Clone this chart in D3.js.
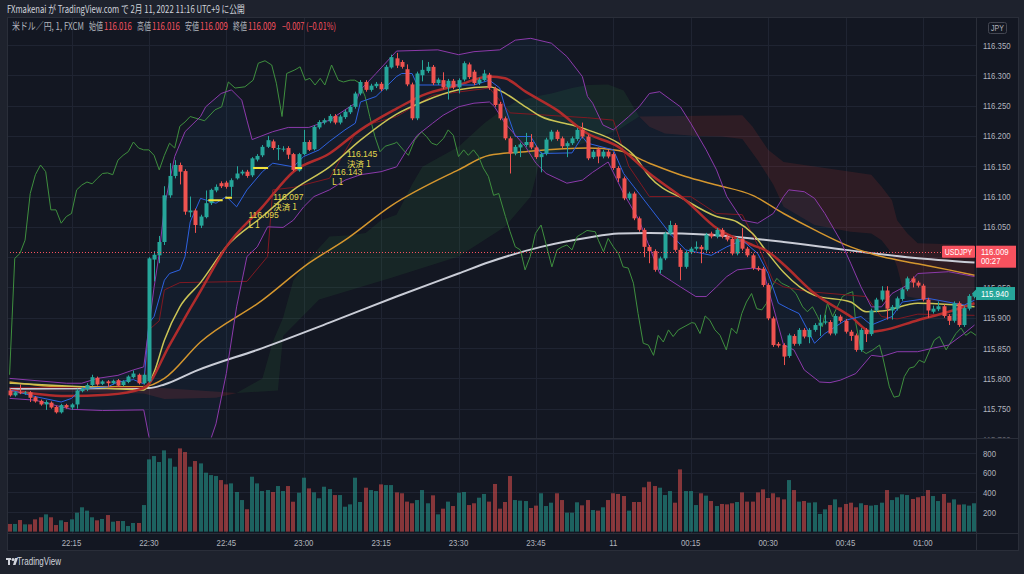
<!DOCTYPE html>
<html>
<head>
<meta charset="utf-8">
<script src="https://cdn.jsdelivr.net/npm/d3@7"></script>
<style>
html, body { margin: 0; padding: 0; background: #1e222d; }
svg { display: block; }
</style>
</head>
<body>
<svg id="chart" width="1024" height="574"></svg>
<script>
// ---- data (1 minute bars, 22:03 .. 01:10) ----
var timeLabels = ["22:15", "22:30", "22:45", "23:00", "23:15", "23:30", "23:45", "11", "00:15", "00:30", "00:45", "01:00"];
var timeLabelIdx = [12, 27, 42, 57, 72, 87, 102, 117, 132, 147, 162, 177];
var priceTicks = [116.35, 116.30, 116.25, 116.20, 116.15, 116.10, 116.05, 116.00, 115.95, 115.90, 115.85, 115.80, 115.75, 115.70];
var volumeTicks = [800, 600, 400, 200];

var opens = [115.780,115.772,115.777,115.776,115.777,115.769,115.763,115.757,115.760,115.753,115.744,115.756,115.752,115.757,115.779,115.782,115.789,115.801,115.791,115.795,
115.792,115.797,115.789,115.794,115.802,115.806,115.792,115.795,115.996,116.003,116.025,116.102,116.134,116.152,116.142,116.074,116.077,116.052,116.066,116.089,
116.110,116.122,116.123,116.116,116.130,116.138,116.141,116.135,116.161,116.168,116.182,116.191,116.178,116.178,116.180,116.170,116.143,116.170,116.190,116.178,
116.214,116.222,116.224,116.233,116.222,116.231,116.239,116.248,116.270,116.289,116.276,116.282,116.286,116.277,116.313,116.328,116.322,116.310,116.285,116.229,
116.300,116.307,116.314,116.287,116.292,116.280,116.291,116.280,116.293,116.318,116.306,116.287,116.292,116.301,116.278,116.253,116.229,116.196,116.171,116.181,
116.185,116.190,116.181,116.165,116.171,116.194,116.207,116.196,116.183,116.188,116.195,116.210,116.199,116.165,116.178,116.166,116.174,116.170,116.147,116.130,
116.097,116.105,116.064,116.045,116.017,116.010,115.979,115.998,116.039,116.053,116.012,115.984,116.008,116.014,116.017,116.012,116.039,116.034,116.045,116.034,
116.030,116.006,116.030,116.014,116.003,115.982,115.981,115.954,115.899,115.857,115.855,115.837,115.870,115.857,115.880,115.868,115.880,115.887,115.892,115.893,
115.874,115.902,115.895,115.877,115.871,115.847,115.880,115.873,115.912,115.930,115.945,115.912,115.915,115.931,115.947,115.965,115.958,115.953,115.930,115.910,
115.914,115.919,115.903,115.895,115.924,115.888,115.915,115.935];
var highs = [115.783,115.779,115.790,115.779,115.779,115.771,115.765,115.764,115.762,115.755,115.758,115.758,115.759,115.783,115.786,115.792,115.806,115.803,115.797,115.797,
115.798,115.799,115.797,115.805,115.813,115.808,115.808,116.000,116.010,116.035,116.117,116.155,116.160,116.156,116.145,116.100,116.080,116.070,116.110,116.113,
116.120,116.125,116.126,116.130,116.150,116.144,116.144,116.165,116.170,116.185,116.200,116.194,116.185,116.183,116.183,116.172,116.172,116.210,116.193,116.218,
116.226,116.229,116.236,116.236,116.235,116.243,116.251,116.273,116.292,116.292,116.286,116.289,116.289,116.317,116.334,116.337,116.325,116.318,116.288,116.306,
116.325,116.322,116.317,116.296,116.305,116.294,116.294,116.295,116.323,116.321,116.309,116.296,116.309,116.304,116.281,116.256,116.232,116.199,116.185,116.189,
116.205,116.203,116.184,116.173,116.197,116.210,116.210,116.199,116.191,116.199,116.213,116.222,116.202,116.177,116.181,116.177,116.177,116.173,116.150,116.133,
116.108,116.108,116.067,116.048,116.020,116.013,116.001,116.042,116.060,116.056,116.015,116.011,116.017,116.026,116.020,116.040,116.042,116.048,116.048,116.037,
116.033,116.033,116.048,116.017,116.006,115.985,115.984,115.957,115.902,115.860,115.858,115.874,115.873,115.883,115.883,115.883,115.891,115.905,115.905,115.896,
115.906,115.905,115.898,115.880,115.874,115.883,115.883,115.915,115.933,115.952,115.952,115.921,115.935,115.950,115.968,115.968,115.961,115.956,115.933,115.920,
115.927,115.922,115.906,115.927,115.927,115.919,115.939,115.943];
var lows = [115.770,115.770,115.774,115.773,115.761,115.760,115.755,115.748,115.750,115.742,115.742,115.750,115.748,115.750,115.777,115.779,115.787,115.788,115.789,115.786,
115.790,115.786,115.787,115.792,115.800,115.790,115.790,115.793,115.960,115.990,116.020,116.098,116.130,116.120,116.070,116.066,116.040,116.048,116.064,116.086,
116.107,116.114,116.113,116.100,116.128,116.135,116.131,116.132,116.158,116.165,116.180,116.177,116.160,116.174,116.162,116.142,116.141,116.168,116.175,116.176,
116.211,116.219,116.221,116.219,116.219,116.228,116.236,116.245,116.267,116.273,116.273,116.279,116.274,116.275,116.311,116.312,116.311,116.282,116.226,116.226,
116.290,116.304,116.284,116.284,116.277,116.260,116.277,116.270,116.290,116.294,116.284,116.284,116.290,116.276,116.248,116.226,116.193,116.138,116.168,116.165,
116.182,116.178,116.162,116.140,116.168,116.191,116.192,116.180,116.165,116.185,116.192,116.196,116.160,116.162,116.155,116.163,116.163,116.144,116.124,116.094,
116.094,116.061,116.042,116.000,115.990,115.976,115.973,115.995,116.036,116.009,115.962,115.981,116.005,116.011,115.990,116.009,116.031,116.031,116.031,116.026,
116.003,116.003,116.011,116.000,115.979,115.977,115.951,115.896,115.852,115.851,115.822,115.834,115.854,115.854,115.866,115.858,115.877,115.870,115.889,115.871,
115.871,115.892,115.874,115.862,115.844,115.844,115.860,115.870,115.909,115.927,115.897,115.897,115.912,115.928,115.944,115.950,115.950,115.927,115.900,115.907,
115.911,115.900,115.888,115.892,115.885,115.885,115.912,115.932];
var closes = [115.772,115.777,115.776,115.777,115.768,115.762,115.757,115.761,115.752,115.744,115.756,115.752,115.757,115.780,115.783,115.789,115.802,115.790,115.795,115.792,
115.796,115.788,115.795,115.803,115.808,115.792,115.806,115.998,116.004,116.025,116.102,116.134,116.152,116.141,116.075,116.077,116.053,116.067,116.089,116.111,
116.116,116.117,116.116,116.127,116.138,116.141,116.134,116.163,116.167,116.182,116.193,116.180,116.180,116.179,116.169,116.144,116.170,116.190,116.177,116.215,
116.223,116.226,116.233,116.222,116.232,116.240,116.248,116.270,116.289,116.276,116.283,116.286,116.277,116.314,116.330,116.316,116.314,116.285,116.229,116.303,
116.309,116.314,116.287,116.293,116.280,116.291,116.280,116.292,116.320,116.297,116.287,116.293,116.303,116.279,116.251,116.229,116.196,116.171,116.182,116.186,
116.190,116.181,116.165,116.170,116.194,116.207,116.195,116.183,116.188,116.196,116.210,116.199,116.163,116.174,116.166,116.174,116.166,116.147,116.130,116.097,
116.105,116.064,116.045,116.017,116.010,115.979,115.998,116.039,116.053,116.012,115.984,116.008,116.014,116.017,116.013,116.037,116.034,116.045,116.034,116.029,
116.006,116.030,116.014,116.003,115.982,115.980,115.954,115.899,115.855,115.854,115.836,115.871,115.857,115.880,115.869,115.880,115.888,115.892,115.894,115.874,
115.903,115.895,115.877,115.870,115.847,115.880,115.873,115.912,115.930,115.945,115.915,115.918,115.932,115.947,115.965,115.958,115.953,115.930,115.912,115.915,
115.919,115.903,115.895,115.924,115.888,115.916,115.936,115.940];
var volumes = [78,78,118,74,74,125,146,176,146,67,115,98,125,193,248,214,146,115,129,169,
101,108,108,57,88,88,271,737,771,710,829,747,662,849,812,662,720,696,601,577,
567,526,482,492,404,322,228,560,492,414,424,404,465,414,465,305,397,550,441,401,
340,458,434,373,373,254,278,550,302,448,424,414,482,475,475,400,391,306,289,322,
424,289,370,176,234,306,261,397,404,271,289,346,384,306,486,234,302,567,322,316,
312,241,265,391,261,295,391,322,193,193,299,268,322,220,214,248,322,391,384,363,
214,302,302,452,509,465,448,373,414,295,635,414,414,271,391,367,312,261,282,278,
289,302,400,306,306,400,431,343,391,350,329,526,424,306,312,295,299,180,227,271,
329,248,282,295,248,289,271,265,271,295,424,322,350,380,373,333,350,363,424,363,
312,384,295,329,275,278,265,289];

// indicator lines, [bar index, price]
var smaWhite = [[0,115.783],[27,115.784],[30,115.790],[36,115.812],[49,115.850],[62,115.892],[75,115.935],[87,115.973],[93,115.992],[103,116.017],[112,116.032],[118,116.039],[124,116.040],[137,116.036],[150,116.025],[162,116.012],[175,115.999],[187,115.991]];
var smaOrange = [[0,115.794],[11,115.786],[26,115.786],[30,115.800],[37,115.860],[49,115.929],[58,115.990],[65,116.028],[74,116.085],[87,116.144],[93,116.168],[100,116.174],[112,116.180],[118,116.176],[124,116.155],[131,116.133],[137,116.119],[144,116.102],[150,116.072],[156,116.045],[163,116.017],[169,116.001],[176,115.989],[182,115.979],[187,115.970]];
var emaYellow = [[0,115.792],[14,115.786],[26,115.781],[28,115.810],[30,115.863],[33,115.918],[37,115.958],[42,116.017],[49,116.067],[55,116.111],[62,116.149],[68,116.193],[75,116.236],[80,116.256],[87,116.276],[93,116.281],[95,116.275],[100,116.248],[103,116.232],[109,116.218],[112,116.210],[118,116.188],[121,116.168],[124,116.133],[131,116.094],[137,116.067],[141,116.058],[144,116.039],[147,116.006],[150,115.975],[156,115.937],[163,115.926],[166,115.910],[169,115.911],[176,115.924],[182,115.922],[187,115.918]];
var smaRed = [[0,115.781],[11,115.771],[19,115.773],[26,115.784],[31,115.855],[35,115.915],[37,115.944],[42,116.017],[49,116.083],[55,116.141],[62,116.171],[68,116.210],[75,116.245],[80,116.267],[87,116.284],[93,116.298],[96,116.295],[100,116.273],[106,116.243],[112,116.204],[118,116.182],[124,116.138],[131,116.094],[137,116.048],[144,116.020],[147,116.009],[150,115.988],[156,115.940],[163,115.902],[167,115.877],[169,115.879],[176,115.896],[182,115.910],[187,115.924]];
var kijun = [[0,115.785],[26,115.785],[27,115.880],[29,115.895],[30,115.946],[33,115.958],[46,115.960],[50,116.001],[51,116.111],[55,116.115],[62,116.130],[67,116.204],[70,116.220],[75,116.232],[82,116.267],[93,116.279],[97,116.238],[112,116.230],[117,116.226],[120,116.150],[124,116.100],[132,116.100],[137,116.072],[142,116.070],[145,116.020],[148,115.960],[150,115.951],[155,115.943],[166,115.935],[169,115.902],[172,115.898],[176,115.906],[187,115.904]];
var tenkan = [[0,115.781],[5,115.770],[10,115.761],[12,115.767],[14,115.783],[19,115.786],[21,115.794],[24,115.798],[26,115.791],[27,115.891],[28,115.902],[30,115.962],[31,115.973],[33,115.979],[34,116.001],[35,116.058],[37,116.097],[40,116.089],[42,116.100],[44,116.083],[46,116.111],[49,116.141],[51,116.155],[55,116.149],[57,116.166],[60,116.177],[62,116.191],[65,116.210],[67,116.221],[68,116.256],[71,116.265],[75,116.298],[76,116.303],[78,116.303],[79,116.284],[90,116.284],[93,116.292],[95,116.279],[96,116.248],[98,116.199],[101,116.199],[103,116.171],[109,116.172],[111,116.199],[112,116.188],[117,116.177],[119,116.138],[121,116.116],[124,116.083],[128,116.039],[131,116.012],[136,116.003],[139,116.017],[142,116.028],[145,116.006],[147,115.973],[149,115.924],[151,115.915],[153,115.907],[156,115.858],[158,115.874],[162,115.896],[165,115.902],[167,115.888],[171,115.902],[173,115.926],[178,115.932],[185,115.921],[187,115.929]];
var bbUpper = [[0,115.800],[11,115.792],[14,115.792],[17,115.800],[21,115.805],[24,115.814],[26,115.819],[27,115.885],[28,115.950],[29,116.006],[30,116.083],[32,116.166],[34,116.207],[37,116.232],[38,116.248],[41,116.270],[43,116.276],[45,116.259],[46,116.226],[47,116.194],[51,116.207],[54,116.214],[58,116.214],[62,116.226],[65,116.243],[67,116.254],[68,116.276],[71,116.303],[75,116.340],[83,116.342],[87,116.334],[90,116.339],[95,116.342],[98,116.358],[101,116.361],[105,116.353],[108,116.331],[111,116.298],[112,116.265],[113,116.254],[115,116.218],[117,116.210],[120,116.232],[122,116.248],[124,116.270],[126,116.273],[130,116.248],[132,116.221],[135,116.177],[137,116.144],[139,116.100],[142,116.061],[145,116.056],[148,116.072],[150,116.100],[151,116.111],[154,116.108],[156,116.097],[158,116.072],[161,116.028],[163,115.990],[165,115.951],[167,115.918],[169,115.918],[171,115.940],[174,115.954],[176,115.973],[182,115.976],[187,115.968]];
var bbLower = [[0,115.767],[5,115.764],[10,115.753],[12,115.749],[18,115.747],[26,115.748],[27,115.704],[28,115.660],[31,115.620],[34,115.620],[37,115.660],[39,115.700],[40,115.725],[42,115.808],[44,115.918],[46,116.001],[48,116.017],[50,116.050],[53,116.049],[55,116.061],[57,116.083],[59,116.100],[62,116.111],[65,116.127],[68,116.136],[72,116.141],[75,116.149],[77,116.177],[79,116.201],[82,116.221],[84,116.234],[87,116.248],[90,116.254],[93,116.256],[94,116.248],[96,116.221],[100,116.182],[102,116.155],[104,116.138],[108,116.122],[111,116.127],[113,116.140],[116,116.157],[119,116.105],[122,116.061],[124,116.017],[126,115.973],[130,115.951],[133,115.935],[135,115.935],[137,115.951],[139,115.968],[141,115.979],[144,115.982],[146,115.979],[148,115.918],[150,115.855],[152,115.847],[154,115.814],[157,115.794],[159,115.793],[161,115.797],[164,115.808],[167,115.838],[169,115.836],[172,115.844],[176,115.844],[179,115.850],[182,115.855],[185,115.874],[187,115.888]];
var chikou = [[0,115.806],[1,115.998],[2,116.006],[3,116.028],[4,116.105],[5,116.136],[6,116.152],[7,116.141],[8,116.078],[9,116.078],[10,116.056],[11,116.067],[12,116.072],[13,116.111],[14,116.119],[15,116.124],[16,116.121],[17,116.130],[18,116.138],[19,116.139],[20,116.136],[21,116.160],[22,116.168],[23,116.174],[24,116.190],[25,116.180],[26,116.177],[27,116.177],[28,116.168],[29,116.144],[30,116.168],[31,116.188],[32,116.180],[33,116.216],[34,116.223],[35,116.232],
[37.8,116.225],[39.8,116.243],[41.1,116.248],[42.4,116.289],[43.7,116.279],[45.6,116.281],[47.2,116.292],[48.2,116.320],[49.5,116.324],[50.8,116.317],[51.7,116.287],[52.8,116.232],[53.7,116.303],[55.3,116.309],[56.3,116.314],[57.3,116.292],[58.2,116.295],[59.2,116.284],[60.2,116.295],[61.1,116.284],[62.4,116.317],[63.7,116.292],[64.7,116.289],[66,116.292],[66.9,116.292],[67.9,116.287],[68.9,116.265],[69.8,116.232],[70.8,116.199],[71.8,116.174],[72.8,116.183],[74.7,116.188],
[75,116.190],[76.3,116.177],[77.3,116.168],[78.5,116.193],[79.8,116.207],[80.8,116.199],[81.8,116.188],[82.8,116.185],[84.1,116.196],[85,116.210],[86,116.201],[87,116.166],[88,116.177],[88.9,116.168],[89.9,116.177],[90.9,116.166],[91.8,116.147],[92.8,116.133],[93.8,116.102],[94.8,116.105],[96.1,116.067],[97,116.042],[98,116.017],[99,116.012],[99.9,115.979],[100.9,116.001],[101.9,116.039],[103,116.053],[104.1,116.017],[105.1,115.984],[106.1,116.012],[107.1,116.017],[108,116.020],[109,116.012],[110,116.034],[111,116.039],[111.9,116.044],
[113.5,116.042],[114.1,116.028],[115.1,116.009],[116,116.031],[117,116.017],[118,116.006],[118.9,115.984],[119.9,115.982],[120.9,115.957],[121.8,115.907],[122.8,115.858],[123.8,115.855],[124.8,115.838],[125.7,115.871],[126.7,115.860],[127.7,115.880],[128.6,115.869],[129.6,115.880],[130.9,115.886],[132.2,115.892],[132.8,115.891],[133.8,115.874],[134.8,115.903],[135.7,115.896],[136.7,115.880],[137.7,115.871],[138.9,115.847],[139.9,115.883],[140.9,115.874],[141.9,115.907],[142.8,115.926],[143.8,115.940],[144.8,115.915],[145.8,115.913],[146.7,115.924],[147.7,115.951],[148.7,115.965],[149.6,115.957],
[151.1,115.951],[152.4,115.940],[153.7,115.918],[154.6,115.910],[155.6,115.918],[156.6,115.902],[157.5,115.885],[158.5,115.924],[159.5,115.902],[160.4,115.918],[161.4,115.935],[162.4,115.940],[163.4,115.943],[164,115.891],[165,115.847],[166,115.841],[167.3,115.847],[168.6,115.855],[169.2,115.836],[170.5,115.786],[171.4,115.769],[172.4,115.771],[173.4,115.803],[174.4,115.817],[175.3,115.819],[176.3,115.830],[177.3,115.826],[178.2,115.844],[179.2,115.863],[180.2,115.869],[181.5,115.847],[182.4,115.860],[183.4,115.874],[184.4,115.883],[185.3,115.871],[186.3,115.877],[187.3,115.871]];
var senkouA = [[0,115.779],[26,115.775],[30,115.766],[40,115.768],[44,115.776],[49,115.800],[51,115.860],[53,115.900],[55,115.962],[59,116.006],[62,116.034],[66,116.036],[69,116.040],[72,116.061],[75,116.070],[78,116.120],[80,116.149],[87,116.182],[92,116.221],[95,116.240],[98,116.256],[102,116.265],[105,116.270],[109,116.279],[112,116.284],[116,116.285],[119,116.275],[122,116.232],[124,116.215],[127,116.204],[133,116.200],[138,116.199],[142,116.195],[145,116.160],[148,116.120],[150,116.083],[156,116.053],[163,116.042],[167,116.039],[169,116.028],[171,116.006],[172,115.984],[173,115.951],[174,115.935],[178,115.929],[182,115.924],[187,115.918]];
var senkouB = [[0,115.786],[26,115.786],[44,115.776],[52,115.780],[53,115.870],[60,115.930],[74,115.966],[87,116.001],[96,116.050],[101,116.100],[103,116.166],[112,116.190],[118,116.210],[122,116.232],[142,116.234],[144,116.215],[147,116.177],[150,116.157],[154,116.152],[159,116.146],[163,116.141],[167,116.136],[169,116.116],[171,116.094],[172,116.061],[174,116.039],[176,116.023],[187,116.020]];

// trades: label anchors [bar index, price] and the short execution marks
var tradeLabels = [
  {i: 65.4, p: 116.165, price: "116.145", note: "決済 1"},
  {i: 62.5, p: 116.135, price: "116.143", note: "L 1"},
  {i: 51.1, p: 116.095, price: "116.097", note: "決済 1"},
  {i: 46.3, p: 116.065, price: "116.095", note: "L 1"}
];
var tradeMarks = [[38.5, 41.3, 116.094], [41.8, 43.1, 116.098], [47.2, 50.1, 116.147], [55.3, 56.7, 116.147]];

var lastPrice = 116.009, lastVisible = 115.940;

// ---- layout ----
var plotL = 7, plotR = 976, paneTop = 17, paneBot = 437.5, volTop = 439, volBot = 533;

var svg = d3.select("#chart");
var x = d3.scaleLinear().domain([12, 177]).range([71.5, 922.9]);
var y = d3.scaleLinear().domain([115.70, 116.35]).range([439, 45]);
var yv = d3.scaleLinear().domain([0, 800]).range([531.6, 453.2]);

var defs = svg.append("defs");
defs.append("clipPath").attr("id", "clipPrice").append("rect")
  .attr("x", plotL).attr("y", paneTop).attr("width", plotR - plotL).attr("height", paneBot - paneTop);
defs.append("clipPath").attr("id", "clipVol").append("rect")
  .attr("x", plotL).attr("y", volTop).attr("width", plotR - plotL).attr("height", volBot - volTop);
defs.append("clipPath").attr("id", "clipAxis").append("rect")
  .attr("x", plotR).attr("y", paneTop).attr("width", 45).attr("height", paneBot - paneTop);

function txt(g, xx, yy, str, size, color, anchor, sx) {
  return g.append("text")
    .attr("transform", "translate(" + xx + "," + yy + ") scale(" + (sx || 0.82) + ",1)")
    .attr("font-family", "Liberation Sans, Arial, sans-serif")
    .attr("font-size", size)
    .attr("fill", color)
    .attr("text-anchor", anchor || "start")
    .text(str);
}

// squeeze a text horizontally so it spans the given width
function fitText(g, xx, yy, str, size, color, w, family) {
  var t = g.append("text")
    .attr("font-family", family || "Noto Sans CJK JP, sans-serif")
    .attr("font-size", size).attr("fill", color).text(str);
  var n = t.node().getComputedTextLength() || w;
  t.attr("transform", "translate(" + xx + "," + yy + ") scale(" + (w / n) + ",1)");
  return t;
}

// backgrounds
svg.append("rect").attr("width", 1024).attr("height", 574).attr("fill", "#1e222d");
svg.append("rect").attr("x", plotL).attr("y", paneTop).attr("width", 1019 - plotL).attr("height", 551 - paneTop).attr("fill", "#131722");

// grid
var grid = svg.append("g").attr("stroke", "#1f2432").attr("stroke-width", 1);
grid.selectAll("line.h").data(priceTicks).join("line")
  .attr("x1", plotL).attr("x2", plotR)
  .attr("y1", function (d) { return Math.round(y(d)) + 0.5; })
  .attr("y2", function (d) { return Math.round(y(d)) + 0.5; });
grid.selectAll("line.v").data(timeLabelIdx).join("line")
  .attr("x1", function (d) { return Math.round(x(d)) + 0.5; })
  .attr("x2", function (d) { return Math.round(x(d)) + 0.5; })
  .attr("y1", paneTop).attr("y2", volBot);
grid.selectAll("line.vv").data(volumeTicks).join("line")
  .attr("x1", plotL).attr("x2", plotR)
  .attr("y1", function (d) { return Math.round(yv(d)) + 0.5; })
  .attr("y2", function (d) { return Math.round(yv(d)) + 0.5; });

// price pane
var pane = svg.append("g").attr("clip-path", "url(#clipPrice)");
var line = d3.line().x(function (d) { return x(d[0]); }).y(function (d) { return y(d[1]); });
var smooth = d3.line().x(function (d) { return x(d[0]); }).y(function (d) { return y(d[1]); }).curve(d3.curveMonotoneX);

function cloud(lo, hi, color) {
  var a = senkouA.filter(function (d) { return d[0] >= lo && d[0] <= hi; });
  var b = senkouB.filter(function (d) { return d[0] >= lo && d[0] <= hi; }).reverse();
  pane.append("path").attr("d", line(a.concat(b)) + "Z").attr("fill", color);
}
cloud(0, 44, "rgba(244,67,54,0.14)");
cloud(44, 122, "rgba(67,160,71,0.11)");
cloud(122, 187, "rgba(244,67,54,0.12)");

pane.append("path").attr("d", line(bbUpper.concat(bbLower.slice().reverse())) + "Z")
  .attr("fill", "rgba(33,150,243,0.05)");

function drawLine(data, color, width, gen) {
  pane.append("path").attr("d", (gen || line)(data)).attr("fill", "none")
    .attr("stroke", color).attr("stroke-width", width).attr("stroke-linejoin", "round");
}
drawLine(smaWhite, "#c9ccd6", 2, smooth);
drawLine(smaOrange, "#d4962e", 1.5, smooth);
drawLine(chikou, "#3f8f3f", 1);
drawLine(kijun, "#801922", 1);
drawLine(emaYellow, "#cbc455", 1.5, smooth);
drawLine(smaRed, "#b02c2c", 2.5, smooth);
drawLine(tenkan, "#2e62e0", 1);
drawLine(bbUpper, "#8c3aab", 1);
drawLine(bbLower, "#8c3aab", 1);

// candles
var idx = d3.range(closes.length);
function col(i) { return closes[i] >= opens[i] ? "#26a69a" : "#ef5350"; }
pane.selectAll("line.wick").data(idx).join("line")
  .attr("x1", function (i) { return Math.round(x(i)) + 0.5; })
  .attr("x2", function (i) { return Math.round(x(i)) + 0.5; })
  .attr("y1", function (i) { return y(highs[i]); })
  .attr("y2", function (i) { return y(lows[i]); })
  .attr("stroke", col).attr("stroke-width", 1);
pane.selectAll("rect.body").data(idx).join("rect")
  .attr("x", function (i) { return Math.round(x(i)) - 1.5; })
  .attr("width", 4)
  .attr("y", function (i) { return y(Math.max(opens[i], closes[i])); })
  .attr("height", function (i) { return Math.max(1, Math.abs(y(opens[i]) - y(closes[i]))); })
  .attr("fill", col);

// trade markers and texts
pane.selectAll("line.trade").data(tradeMarks).join("line")
  .attr("x1", function (d) { return x(d[0]); }).attr("x2", function (d) { return x(d[1]); })
  .attr("y1", function (d) { return y(d[2]); }).attr("y2", function (d) { return y(d[2]); })
  .attr("stroke", "#f2e23c").attr("stroke-width", 2);
tradeLabels.forEach(function (t) {
  var tx = x(t.i), ty = y(t.p);
  txt(pane, tx, ty, t.price, 9, "#e4d94c", "start", 0.95);
  pane.append("text").attr("x", tx).attr("y", ty + 10)
    .attr("font-family", "Noto Sans CJK JP, sans-serif").attr("font-size", 8.5)
    .attr("fill", "#e4d94c").text(t.note);
});

// last price dotted line
pane.append("line").attr("x1", plotL).attr("x2", plotR)
  .attr("y1", Math.round(y(lastPrice)) + 0.5).attr("y2", Math.round(y(lastPrice)) + 0.5)
  .attr("stroke", "#f7525f").attr("stroke-width", 1).attr("stroke-dasharray", "1,2");

// volume pane
var vol = svg.append("g").attr("clip-path", "url(#clipVol)");
vol.selectAll("rect").data(idx).join("rect")
  .attr("x", function (i) { return Math.round(x(i) - 2); })
  .attr("width", 4)
  .attr("y", function (i) { return yv(volumes[i]); })
  .attr("height", function (i) { return yv(0) - yv(volumes[i]); })
  .attr("fill", col).attr("fill-opacity", 0.52);

// separators
var sep = svg.append("g").attr("stroke", "#2a2e39").attr("stroke-width", 1);
sep.append("line").attr("x1", plotL).attr("x2", 1019).attr("y1", 438.5).attr("y2", 438.5);
sep.append("line").attr("x1", plotR + 0.5).attr("x2", plotR + 0.5).attr("y1", paneTop).attr("y2", 551);
sep.append("line").attr("x1", plotL).attr("x2", 1019).attr("y1", volBot + 0.5).attr("y2", volBot + 0.5);
sep.append("rect").attr("x", plotL + 0.5).attr("y", paneTop + 0.5).attr("width", 1019 - plotL - 1).attr("height", 551 - paneTop - 1).attr("fill", "none");

// price axis (the tick hidden behind the last-price badge is not drawn)
var axis = svg.append("g").attr("clip-path", "url(#clipAxis)");
priceTicks.forEach(function (t) {
  if (Math.abs(y(t) - y(lastPrice)) < 11) return;
  txt(axis, 983, y(t) + 3.5, t.toFixed(3), 9.5, "#b2b5be");
});
volumeTicks.forEach(function (v) {
  txt(svg, 983, yv(v) + 3.5, String(v), 9.5, "#b2b5be");
});
svg.append("rect").attr("x", 988.5).attr("y", 22.5).attr("width", 18).attr("height", 11).attr("rx", 2)
  .attr("fill", "none").attr("stroke", "#434651");
txt(svg, 997.5, 31, "JPY", 8.5, "#b2b5be", "middle");

// time axis
timeLabels.forEach(function (s, k) {
  txt(svg, x(timeLabelIdx[k]), 545.5, s, 9.5, "#b2b5be", "middle");
});

// last price labels
var yl = y(lastPrice);
svg.append("rect").attr("x", 942).attr("y", yl - 6).attr("width", 33).attr("height", 12).attr("rx", 1).attr("fill", "#f7525f");
txt(svg, 958.5, yl + 3.5, "USDJPY", 8.5, "#ffffff", "middle");
svg.append("rect").attr("x", 976).attr("y", yl - 6).attr("width", 40).attr("height", 22).attr("fill", "#f7525f");
txt(svg, 981, yl + 3.5, lastPrice.toFixed(3), 9.5, "#ffffff");
txt(svg, 981, yl + 12.5, "00:27", 9.5, "#ffffff");
var yt = y(lastVisible);
svg.append("path").attr("d", "M972," + yt + " L976," + (yt - 4) + " L976," + (yt + 4) + "Z").attr("fill", "#26a69a");
svg.append("rect").attr("x", 976).attr("y", yt - 6.5).attr("width", 39).attr("height", 13).attr("fill", "#26a69a");
txt(svg, 981, yt + 3.5, lastVisible.toFixed(3), 9.5, "#ffffff");

// header
fitText(svg, 7, 13, "FXmakenai が TradingView.com で 2月 11, 2022 11:16 UTC+9 に公開", 10, "#d1d4dc", 238);

var legendParts = [
  {s: "米ドル／円, 1, FXCM", c: "#b2b5be", x0: 12, w: 72},
  {s: "始値", c: "#b2b5be", x0: 89, w: 14}, {s: "116.016", c: "#f7525f", x0: 104, w: 28},
  {s: "高値", c: "#b2b5be", x0: 137, w: 14}, {s: "116.016", c: "#f7525f", x0: 152, w: 28},
  {s: "安値", c: "#b2b5be", x0: 185, w: 14}, {s: "116.009", c: "#f7525f", x0: 200, w: 28},
  {s: "終値", c: "#b2b5be", x0: 233, w: 14}, {s: "116.009", c: "#f7525f", x0: 248, w: 28},
  {s: "−0.007 (−0.01%)", c: "#f7525f", x0: 282, w: 54}
];
legendParts.forEach(function (p) {
  fitText(svg, p.x0, 30, p.s, 10, p.c, p.w);
});

// footer logo
var logo = svg.append("g").attr("transform", "translate(6,557)").attr("fill", "#d1d4dc");
logo.append("rect").attr("x", 0).attr("y", 1).attr("width", 5).attr("height", 2);
logo.append("rect").attr("x", 2).attr("y", 1).attr("width", 2).attr("height", 7);
logo.append("circle").attr("cx", 7).attr("cy", 2.5).attr("r", 1.5);
logo.append("path").attr("d", "M9,1 L12,1 L9.5,8 L7,8 Z");
txt(svg, 17, 565, "TradingView", 10, "#d1d4dc", "start", 0.8);
</script>
</body>
</html>
